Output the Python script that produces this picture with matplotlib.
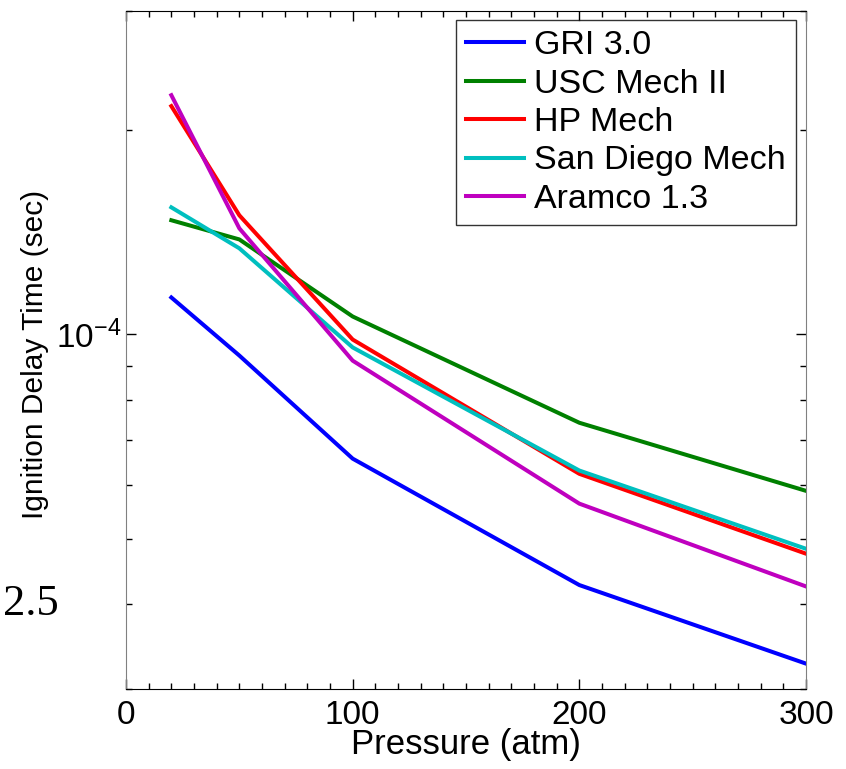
import matplotlib
matplotlib.use("Agg")
import matplotlib.pyplot as plt
from matplotlib.ticker import LogLocator, NullFormatter, MultipleLocator

plt.rcParams['font.family'] = ['Liberation Sans', 'DejaVu Sans']
plt.rcParams['mathtext.default'] = 'regular'

# pressure points (atm)
pressure = [20, 50, 100, 200, 300]

# ignition delay times (sec)
gri = [1.134e-4, 9.31e-5, 6.56e-5, 4.27e-5, 3.27e-5]
usc = [1.474e-4, 1.381e-4, 1.063e-4, 7.41e-5, 5.88e-5]
hp = [2.172e-4, 1.499e-4, 9.83e-5, 6.23e-5, 4.75e-5]
san_diego = [1.540e-4, 1.340e-4, 9.57e-5, 6.30e-5, 4.83e-5]
aramco = [2.254e-4, 1.434e-4, 9.15e-5, 5.63e-5, 4.25e-5]

labels = ['GRI 3.0', 'USC Mech II', 'HP Mech', 'San Diego Mech', 'Aramco 1.3']
colors = ['#0000ff', '#008000', '#ff0000', '#00bfbf', '#bf00bf']

fig = plt.figure(figsize=(8.46, 7.69), dpi=100)
ax = fig.add_axes([126/846, 1 - 689/769, 680/846, 678/769])

for ys, lab, c in zip([gri, usc, hp, san_diego, aramco], labels, colors):
    ax.plot(pressure, ys, color=c, lw=2.9, label=lab)

ax.set_yscale('log')
ax.set_xlim(0, 300)
ax.set_ylim(3e-5, 3e-4)

ax.xaxis.set_major_locator(MultipleLocator(100))
ax.xaxis.set_minor_locator(MultipleLocator(10))
ax.set_yticks([1e-4])
ax.set_yticklabels([r'$10^{-4}$'])
ax.yaxis.set_minor_locator(LogLocator(base=10, subs=range(2, 10)))
ax.yaxis.set_minor_formatter(NullFormatter())

ax.tick_params(which='both', direction='in', top=True, right=True, labelsize=24)
ax.tick_params(which='major', length=7, width=1)
ax.tick_params(which='minor', length=4, width=1)
ax.tick_params(axis='x', pad=8)

for side in ['left', 'right']:
    ax.spines[side].set_color('#808080')
for side in ['top', 'bottom']:
    ax.spines[side].set_color('black')

ax.set_xlabel('Pressure (atm)', fontsize=25, labelpad=-2)
ax.set_ylabel('Ignition Delay Time (sec)', fontsize=21.5)
ax.yaxis.set_label_coords(-0.113, 0.493)

leg = ax.legend(loc='upper right', bbox_to_anchor=(0.985, 0.987), fontsize=24.5,
                frameon=True, fancybox=False, handlelength=1.7, handletextpad=0.3,
                labelspacing=0.22, borderpad=0.3, borderaxespad=0)
leg.get_frame().set_edgecolor('black')
leg.get_frame().set_linewidth(1)

fig.text(3/846, 1 - 604/769, '2.5', family=['Liberation Serif', 'DejaVu Serif'],
         fontsize=32, ha='left', va='center')

fig.savefig('out.png', dpi=100)
